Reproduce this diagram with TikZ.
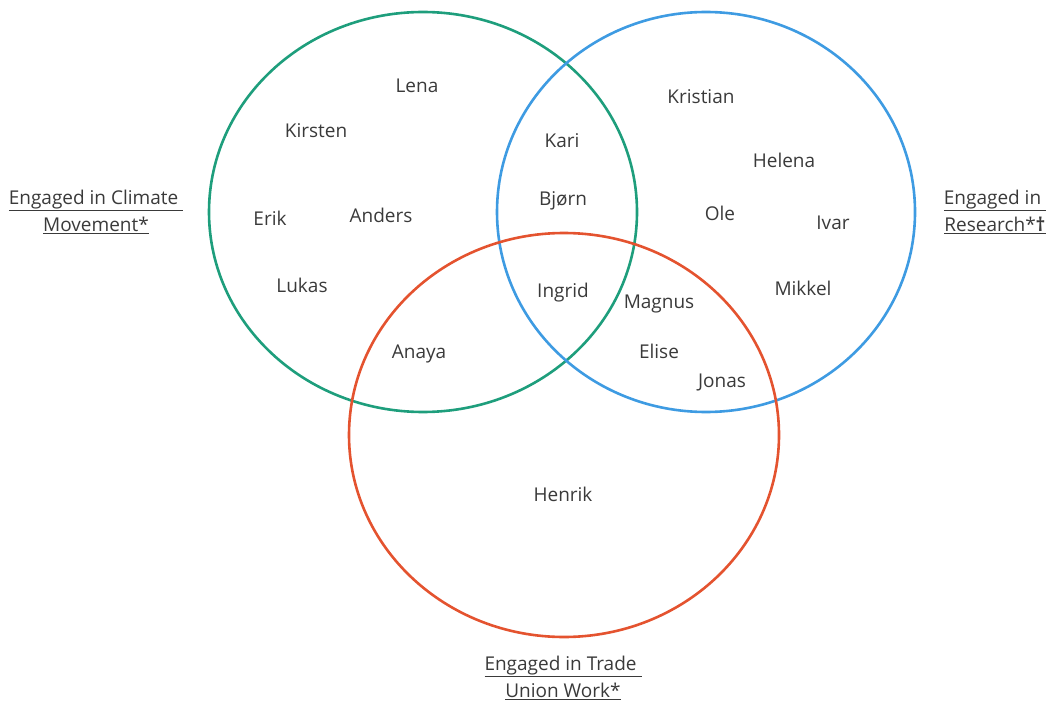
\documentclass[tikz,border=0pt]{standalone}
\usepackage{fontspec}
\setmainfont{Open Sans}
\definecolor{climate}{HTML}{1E9E7C}
\definecolor{research}{HTML}{3E9BE2}
\definecolor{union}{HTML}{E4532F}
\definecolor{txt}{HTML}{3A3A3A}
\begin{document}
\begin{tikzpicture}[x=1pt,y=-1pt,
	person/.style={text=txt,font=\fontsize{19}{22}\selectfont},
	setlabel/.style={text=txt,align=center,font=\fontsize{19}{27}\selectfont},
	ring/.style={line width=2.6pt}]
	\useasboundingbox (0,0) rectangle (1051,703);
	
	\draw[ring,climate] (423,212) ellipse [x radius=214pt, y radius=200pt];
	\draw[ring,research] (706,212) ellipse [x radius=209pt, y radius=200pt];
	\draw[ring,union] (564,435) ellipse [x radius=215pt, y radius=202pt];
	
	\node[setlabel] (climatelabel) at (96,212) {\underline{Engaged in Climate\ }\\\underline{Movement*}};
	\node[setlabel] (researchlabel) at (995,212) {\underline{Engaged in\ }\\\underline{Research*\textbf{†}}};
	\node[setlabel] (unionlabel) at (563,678) {\underline{Engaged in Trade\ }\\\underline{Union Work*}};
	
	% climate only
	\node[person] (lena) at (417,86) {Lena};
	\node[person] (kirsten) at (316,131) {Kirsten};
	\node[person] (erik) at (270,218) {Erik};
	\node[person] (anders) at (381,215) {Anders};
	\node[person] (lukas) at (302,285) {Lukas};
	% overlaps
	\node[person] (kari) at (562,141) {Kari};
	\node[person] (bjorn) at (563,201) {Bjørn};
	\node[person] (ingrid) at (563,293) {Ingrid};
	\node[person] (anaya) at (419,354) {Anaya};
	\node[person] (magnus) at (659,304) {Magnus};
	\node[person] (elise) at (659,351) {Elise};
	\node[person] (jonas) at (722,383) {Jonas};
	% research only
	\node[person] (kristian) at (701,97) {Kristian};
	\node[person] (helena) at (784,160) {Helena};
	\node[person] (ole) at (720,213) {Ole};
	\node[person] (ivar) at (833,223) {Ivar};
	\node[person] (mikkel) at (803,288) {Mikkel};
	% union only
	\node[person] (henrik) at (563,494) {Henrik};
\end{tikzpicture}
\end{document}
